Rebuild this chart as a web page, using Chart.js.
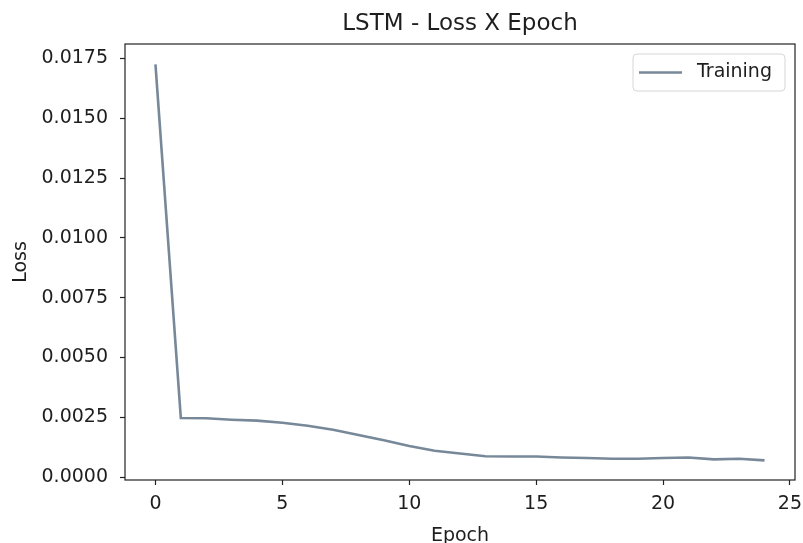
<!DOCTYPE html>
<html>
<head>
<meta charset="utf-8">
<script src="https://cdn.jsdelivr.net/npm/chart.js@4.4.1/dist/chart.umd.min.js"></script>
<style>
  html, body { margin: 0; padding: 0; background: #fff; }
  #wrap { width: 803px; height: 543px; }
</style>
</head>
<body>
<div id="wrap"><canvas id="lossChart" width="803" height="543"></canvas></div>
<script>
// --- data ---
const CHART_TITLE = 'LSTM - Loss X Epoch';
const SERIES_LABEL = 'Training';
const EPOCHS = [0, 1, 2, 3, 4, 5, 6, 7, 8, 9, 10, 11, 12, 13, 14, 15, 16, 17, 18, 19, 20, 21, 22, 23, 24];
const LOSS = [0.01725, 0.00247, 0.00246, 0.00240, 0.00236, 0.00227, 0.00215, 0.00198, 0.00176, 0.00154,
              0.00130, 0.00110, 0.00099, 0.00087, 0.00086, 0.00086, 0.00082, 0.00080, 0.00077, 0.00077,
              0.00080, 0.00082, 0.00074, 0.00077, 0.00070];
const X_TICKS = [0, 5, 10, 15, 20, 25];
const Y_TICKS = [0, 0.0025, 0.005, 0.0075, 0.01, 0.0125, 0.015, 0.0175];

const X_MIN = -1.2, X_MAX = 25.2;
const Y_MIN = -0.00012, Y_MAX = 0.0181;

const LINE_COLOR = '#778899';
const TEXT_COLOR = '#1e1e1e';
const FONT = 'DejaVu Sans';

// box round the plot, title over the plot and the legend inside it
const framePlugin = {
    id: 'frame',
    afterDraw(chart) {
        const { ctx, chartArea: a } = chart;
        ctx.save();
        ctx.strokeStyle = '#222';
        ctx.lineWidth = 1.2;
        ctx.strokeRect(a.left, a.top, a.right - a.left, a.bottom - a.top);

        // title
        ctx.fillStyle = TEXT_COLOR;
        ctx.font = `23px "${FONT}"`;
        ctx.textAlign = 'center';
        ctx.textBaseline = 'middle';
        ctx.fillText(CHART_TITLE, (a.left + a.right) / 2, 24);

        // legend
        const bx = a.right - 162, by = a.top + 10, bw = 152, bh = 37;
        ctx.beginPath();
        ctx.roundRect(bx, by, bw, bh, 4);
        ctx.fillStyle = 'rgba(255,255,255,0.8)';
        ctx.fill();
        ctx.strokeStyle = '#d6d6d6';
        ctx.lineWidth = 1;
        ctx.stroke();
        ctx.beginPath();
        ctx.moveTo(bx + 6, by + bh / 2);
        ctx.lineTo(bx + 49, by + bh / 2);
        ctx.strokeStyle = LINE_COLOR;
        ctx.lineWidth = 2.5;
        ctx.stroke();
        ctx.fillStyle = TEXT_COLOR;
        ctx.font = `19px "${FONT}"`;
        ctx.textAlign = 'left';
        ctx.fillText(chart.data.datasets[0].label, bx + 64, by + bh / 2);
        ctx.restore();
    }
};

const ctx = document.getElementById('lossChart').getContext('2d');
new Chart(ctx, {
    type: 'line',
    data: {
        datasets: [{
            label: SERIES_LABEL,
            data: EPOCHS.map((e, i) => ({ x: e, y: LOSS[i] })),
            borderColor: LINE_COLOR,
            borderWidth: 2.6,
            pointRadius: 0,
            tension: 0,
            fill: false
        }]
    },
    options: {
        responsive: false,
        animation: false,
        devicePixelRatio: 1,
        layout: { padding: { left: 0, right: 8, top: 44, bottom: 0 } },
        plugins: {
            legend: { display: false },
            title: { display: false },
            tooltip: { enabled: false }
        },
        scales: {
            x: {
                type: 'linear',
                min: X_MIN,
                max: X_MAX,
                afterBuildTicks: scale => { scale.ticks = X_TICKS.map(v => ({ value: v })); },
                afterFit: scale => { scale.height = 63; scale.paddingLeft = 0; scale.paddingRight = 0; },
                grid: { display: true, drawOnChartArea: false, drawTicks: true, tickLength: 5, tickWidth: 1.2, tickColor: '#222' },
                border: { display: false },
                ticks: { color: TEXT_COLOR, font: { family: FONT, size: 19 }, padding: 8, maxRotation: 0 },
                title: { display: true, text: 'Epoch', color: TEXT_COLOR, font: { family: FONT, size: 19 }, padding: { top: 0, bottom: -4 } }
            },
            y: {
                type: 'linear',
                min: Y_MIN,
                max: Y_MAX,
                afterBuildTicks: scale => { scale.ticks = Y_TICKS.map(v => ({ value: v })); },
                afterFit: scale => { scale.width = 125; scale.paddingTop = 0; scale.paddingBottom = 0; },
                grid: { display: true, drawOnChartArea: false, drawTicks: true, tickLength: 5, tickWidth: 1.2, tickColor: '#222' },
                border: { display: false },
                ticks: { color: TEXT_COLOR, font: { family: FONT, size: 19 }, padding: 12, callback: v => v.toFixed(4) },
                title: { display: true, text: 'Loss', color: TEXT_COLOR, font: { family: FONT, size: 19 }, padding: { top: 10, bottom: 0 } }
            }
        }
    },
    plugins: [framePlugin]
});
</script>
</body>
</html>
